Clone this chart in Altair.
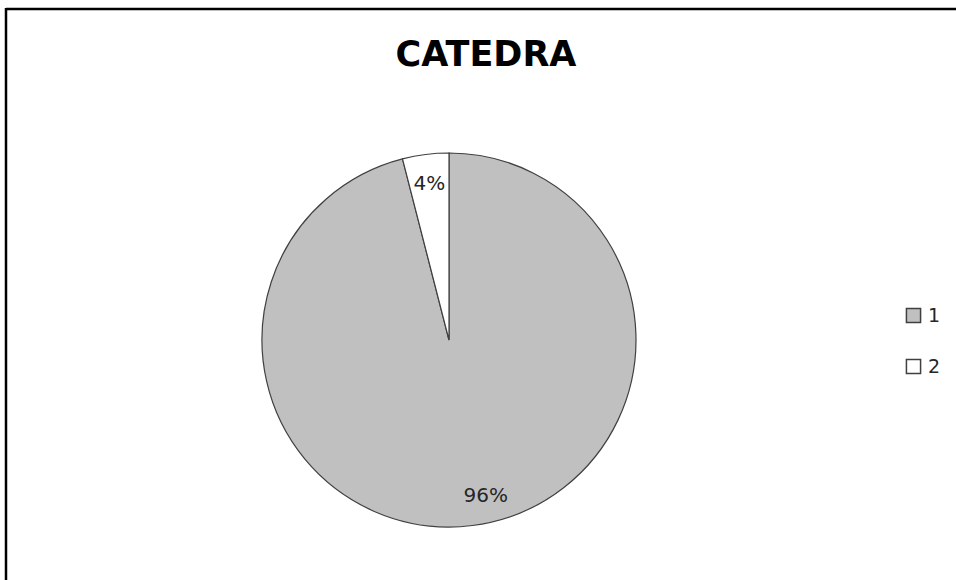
import altair as alt
import pandas as pd

categories = ["1", "2"]
values = [96, 4]
labels = ["96%", "4%"]
colors = ["#C0C0C0", "#FFFFFF"]

df = pd.DataFrame({"category": categories, "value": values, "label": labels})

PAD_TOP = 8
W, H = 950, 572
CX, CY = 443, 332
R = 187

color = alt.Color(
    "category:N",
    scale=alt.Scale(domain=categories, range=colors),
    legend=alt.Legend(
        title=None,
        orient="none",
        legendX=898,
        legendY=298,
        symbolType="square",
        symbolSize=200,
        symbolStrokeColor="#404040",
        symbolStrokeWidth=1.5,
        labelFont="DejaVu Sans",
        labelFontSize=19,
        labelColor="#262626",
        labelOffset=5,
        rowPadding=30,
    ),
)

base = alt.Chart(df).encode(
    theta=alt.Theta("value:Q", stack=True),
    order=alt.Order("category:N"),
)

pie = base.mark_arc(outerRadius=R, stroke="#404040", strokeWidth=1.2).encode(
    x=alt.value(CX), y=alt.value(CY), color=color
)

lbl_small = base.mark_text(radius=157, font="DejaVu Sans", fontSize=20).encode(
    x=alt.value(CX), y=alt.value(CY),
    color=alt.value("#262626"),
    text=alt.condition(alt.datum.category == "2", "label:N", alt.value("")),
)
lbl_big = base.mark_text(radius=157, dx=17, font="DejaVu Sans", fontSize=20).encode(
    x=alt.value(CX), y=alt.value(CY),
    color=alt.value("#262626"),
    text=alt.condition(alt.datum.category == "1", "label:N", alt.value("")),
)

frame_df = pd.DataFrame({"k": [0]})
top_rule = alt.Chart(frame_df).mark_rule(color="black", strokeWidth=2.5).encode(
    x=alt.value(0), x2=alt.value(W + 10), y=alt.value(1)
)
left_rule = alt.Chart(frame_df).mark_rule(color="black", strokeWidth=2.5).encode(
    x=alt.value(0), y=alt.value(0), y2=alt.value(H + 10)
)

chart = alt.layer(pie, lbl_small, lbl_big, top_rule, left_rule).properties(
    width=W,
    height=H,
    padding={"left": 6, "top": PAD_TOP, "right": 0, "bottom": 0},
    autosize=alt.AutoSizeParams(type="none"),
    title=alt.TitleParams(
        "CATEDRA",
        font="DejaVu Sans",
        fontSize=35,
        fontWeight="bold",
        color="black",
        anchor="middle",
        baseline="alphabetic",
        offset=22,
        dx=5,
        dy=116,
    ),
).configure_view(stroke="transparent", strokeWidth=0).configure(background="white")

chart.save("out.html", embed_options={"renderer": "svg", "actions": False})
